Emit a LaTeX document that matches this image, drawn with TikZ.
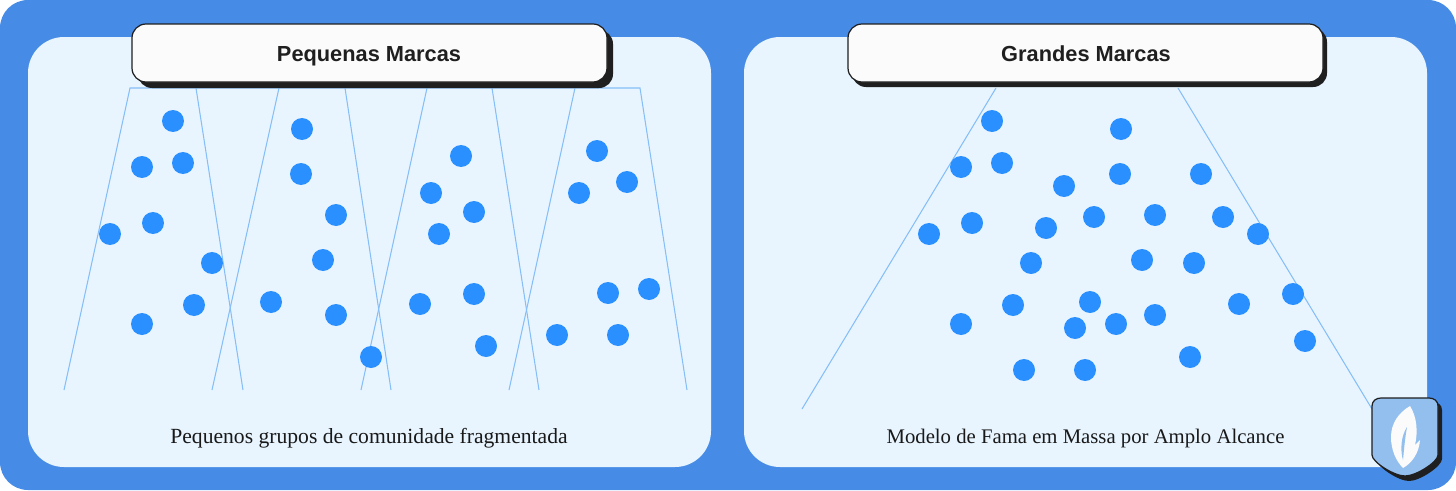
\documentclass[tikz,border=0pt]{standalone}
\usepackage{fontspec}
\setmainfont{Liberation Serif}
\newfontfamily\titlefont{Liberation Sans}
\usetikzlibrary{positioning}
\definecolor{outerblue}{HTML}{468CE7}
\definecolor{panelblue}{HTML}{E8F5FF}
\definecolor{dotblue}{HTML}{2B90FF}
\definecolor{funnelblue}{HTML}{86BEF8}
\definecolor{shieldblue}{HTML}{93BFEF}
\definecolor{darkshadow}{HTML}{1F1F1F}
\definecolor{boxwhite}{HTML}{FBFBFB}
\tikzset{
  funnel/.style={funnelblue, line width=0.6pt},
  panelbox/.style={fill=panelblue, rounded corners=0.72cm},
  titlebox/.style={draw=darkshadow, line width=0.7pt, fill=boxwhite, rounded corners=0.28cm},
  titleshadow/.style={fill=darkshadow, rounded corners=0.28cm},
  titletext/.style={anchor=base, font=\titlefont\bfseries\fontsize{12.4pt}{15pt}\selectfont, text=darkshadow},
  captext/.style={anchor=base, font=\fontsize{12.3pt}{15pt}\selectfont, text=black!90}
}
\begin{document}
\begin{tikzpicture}[x=0.02cm,y=-0.02cm]
\useasboundingbox (0,0) rectangle (1456,490);
% background
\fill[outerblue, rounded corners=0.56cm] (0,0) rectangle (1456,490);
\fill[panelbox] (28,37) rectangle (711,467);
\fill[panelbox] (744,37) rectangle (1427,467);

% small brands
\draw[funnel] (64,390) -- (130,88) -- (640,88) -- (687,390);
\draw[funnel] (196,88) -- (243,390);
\draw[funnel] (279,88) -- (212,390);
\draw[funnel] (345,88) -- (391,390);
\draw[funnel] (427,88) -- (361,390);
\draw[funnel] (492,88) -- (539,390);
\draw[funnel] (575,88) -- (509,390);
% big brand
\draw[funnel] (996,88) -- (802,409);
\draw[funnel] (1178,88) -- (1372,409);

\foreach \x/\y in {173/121,142/167,183/163,110/234,153/223,212/263,194/305,142/324,
  302/129,301/174,336/215,323/260,271/302,336/315,371/357,
  461/156,431/193,474/212,439/234,420/304,474/294,486/346,
  597/151,579/193,627/182,608/293,649/289,557/335,618/335}
{
\fill[dotblue] (\x,\y) circle (0.22cm);
}
\foreach \x/\y in {992/121,961/167,1002/163,929/234,972/223,1031/263,1013/305,961/324,
  1121/129,1120/174,1155/215,1142/260,1090/302,1155/315,1190/357,
  1064/186,1046/228,1094/217,1201/174,1223/217,1258/234,1194/263,
  1239/304,1293/294,1305/341,1075/328,1116/324,1024/370,1085/370}
{
\fill[dotblue] (\x,\y) circle (0.22cm);
}

% title boxes
\fill[titleshadow] (138,30) rectangle (613,88);
\draw[titlebox] (132,24) rectangle (607,82);
\node[titletext] (smalltitle) at (369,61) {Pequenas Marcas};
\fill[titleshadow] (852,28) rectangle (1327,87);
\draw[titlebox] (848,24) rectangle (1323,82);
\node[titletext] (bigtitle) at (1086,61) {Grandes Marcas};

\node[captext] (smallcap) at (369,443) {Pequenos grupos de comunidade fragmentada};
\node[captext, font=\fontsize{11.8pt}{15pt}\selectfont] (bigcap) at (1085.5,443) {Modelo de Fama em Massa por Amplo Alcance};

% shield
\fill[darkshadow] (1376,410) .. controls (1376,405) and (1380,402) .. (1385,402) -- (1433,402)
  .. controls (1438,402) and (1442,405) .. (1442,410) -- (1442,459)
  .. controls (1442,466) and (1420,481) .. (1409,481)
  .. controls (1398,481) and (1376,466) .. (1376,459) -- cycle;
\draw[darkshadow, line width=0.7pt, fill=shieldblue] (1372,406) .. controls (1372,401) and (1376,398) .. (1381,398) -- (1429,398)
  .. controls (1434,398) and (1438,401) .. (1438,406) -- (1438,455)
  .. controls (1438,462) and (1416,476) .. (1405,476)
  .. controls (1394,476) and (1372,462) .. (1372,455) -- cycle;
\fill[boxwhite] (1410,406) .. controls (1398,413) and (1391,424) .. (1391,437)
  .. controls (1391,450) and (1396,461) .. (1403,468)
  .. controls (1412,463) and (1419,453) .. (1420,440)
  -- (1415,445) .. controls (1418,432) and (1417,417) .. (1410,406) -- cycle;
\fill[shieldblue] (1407,427) .. controls (1401,436) and (1400,450) .. (1403,460)
  .. controls (1404,449) and (1405,438) .. (1407,427) -- cycle;
\end{tikzpicture}
\end{document}
